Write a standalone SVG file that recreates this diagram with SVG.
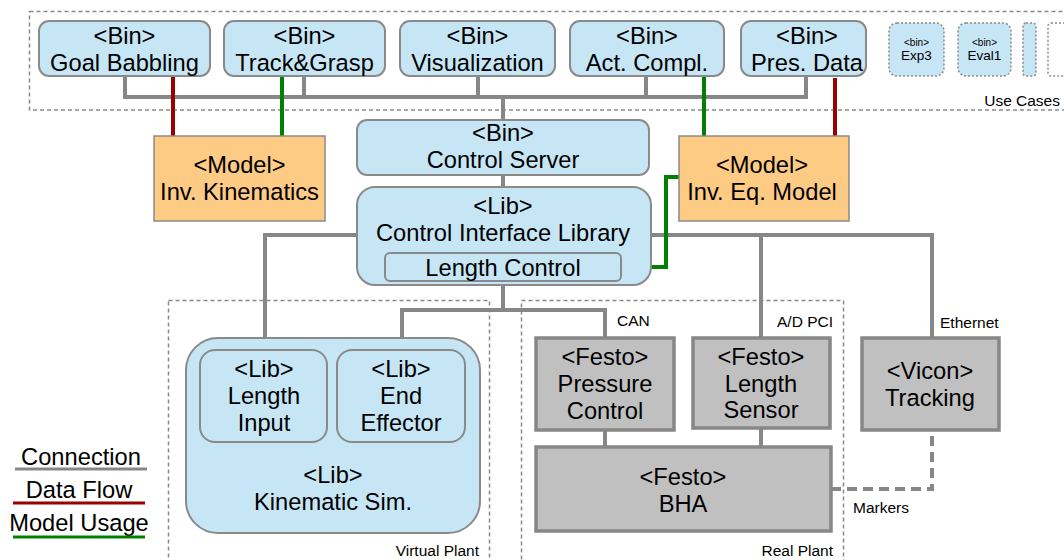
<svg xmlns="http://www.w3.org/2000/svg" width="1064" height="560" viewBox="0 0 1064 560">
<style>
text{font-family:"Liberation Sans",Arial,sans-serif;fill:#000;text-anchor:middle}
.t{font-size:23.7px}
.s{font-size:15.5px}
.xs{font-size:10px}
.sm{font-size:13.5px}
.blue{fill:#c7e6f5;stroke:#8a8a8a;stroke-width:2}
.org{fill:#fecb85;stroke:#8a8a8a;stroke-width:1.5}
.gray{fill:#c0c0c0;stroke:#878787;stroke-width:3.5}
.dash{fill:none;stroke:#8a8a8a;stroke-width:1.5;stroke-dasharray:4,3}
.dblue{fill:#c7e6f5;stroke:#8a8a8a;stroke-width:1.5;stroke-dasharray:2,2}
.c{fill:none;stroke:#878787;stroke-width:4}
.r{fill:none;stroke:#990000;stroke-width:4}
.g{fill:none;stroke:#008000;stroke-width:4}
.cd{fill:none;stroke:#878787;stroke-width:4;stroke-dasharray:10,6}
</style>
<rect width="1064" height="560" fill="#fff"/>
<g id="containers">
<rect class="dash" x="29.5" y="11.5" width="1050" height="98.5"/>
<text class="s" x="1060" y="106" style="text-anchor:end">Use Cases</text>
<rect class="dash" x="168.5" y="300.5" width="321" height="280"/>
<text class="s" x="479" y="556" style="text-anchor:end">Virtual Plant</text>
<rect class="dash" x="521.5" y="300.5" width="322" height="280"/>
<text class="s" x="833" y="556" style="text-anchor:end">Real Plant</text>
</g>
<g id="connectors">
<path class="c" d="M125 76V97H806V76M304 76V97M478 76V97M646 76V97M503 97V120"/>
<path class="c" d="M503 175V187"/>
<path class="c" d="M357 235H265V352"/>
<path class="c" d="M651 235H932V338M761 235V338"/>
<path class="c" d="M402 351V310H605V338M503 285V310"/>
<path class="c" d="M605 430V447M761 428V447"/>
<path class="cd" d="M831 489H932V430"/>
<path class="r" d="M173 77V136M835 78V136"/>
<path class="g" d="M282 77V136M704 76V136"/>
<path class="g" d="M621 267H666V177H679"/>
</g>
<g id="goal-babbling"><rect class="blue" x="39" y="21" width="171" height="55" rx="10"/><text class="t" x="124.5" y="44">&lt;Bin&gt;</text><text class="t" x="124.5" y="71">Goal Babbling</text></g>
<g id="track-grasp"><rect class="blue" x="224" y="21" width="161" height="55" rx="10"/><text class="t" x="304.5" y="44">&lt;Bin&gt;</text><text class="t" x="304.5" y="71">Track&amp;Grasp</text></g>
<g id="visualization"><rect class="blue" x="400" y="21" width="155" height="55" rx="10"/><text class="t" x="477.5" y="44">&lt;Bin&gt;</text><text class="t" x="477.5" y="71">Visualization</text></g>
<g id="act-compl"><rect class="blue" x="570" y="21" width="154" height="55" rx="10"/><text class="t" x="647" y="44">&lt;Bin&gt;</text><text class="t" x="647" y="71">Act. Compl.</text></g>
<g id="pres-data"><rect class="blue" x="741" y="21" width="125" height="55" rx="10"/><text class="t" x="807" y="44">&lt;Bin&gt;</text><text class="t" x="807" y="71">Pres. Data</text></g>
<g id="exp3"><rect class="dblue" x="889" y="23" width="55" height="53" rx="8"/><text class="xs" x="916.5" y="46">&lt;bin&gt;</text><text class="sm" x="916.5" y="60">Exp3</text></g>
<g id="eval1"><rect class="dblue" x="958" y="23" width="53" height="53" rx="8"/><text class="xs" x="984.5" y="46">&lt;bin&gt;</text><text class="sm" x="984.5" y="60">Eval1</text></g>
<g id="more1"><rect class="dblue" x="1023" y="23" width="13" height="53" rx="3"/></g>
<g id="more2"><rect class="dash" x="1048" y="23" width="20" height="53" rx="3" style="stroke-dasharray:2,2"/></g>
<g id="inv-kinematics"><rect class="org" x="154" y="136" width="171" height="85"/><text class="t" x="239.5" y="173">&lt;Model&gt;</text><text class="t" x="239.5" y="200">Inv. Kinematics</text></g>
<g id="inv-eq-model"><rect class="org" x="679" y="136" width="170" height="85"/><text class="t" x="762" y="173">&lt;Model&gt;</text><text class="t" x="762" y="200">Inv. Eq. Model</text></g>
<g id="control-server"><rect class="blue" x="357" y="120" width="292" height="55" rx="10"/><text class="t" x="503" y="141">&lt;Bin&gt;</text><text class="t" x="503" y="168">Control Server</text></g>
<g id="control-interface-library"><rect class="blue" x="357" y="187" width="294" height="98" rx="18"/><text class="t" x="503" y="214">&lt;Lib&gt;</text><text class="t" x="503" y="241">Control Interface Library</text></g>
<g id="length-control"><rect class="blue" x="385" y="253" width="236" height="28" rx="5"/><text class="t" x="503" y="276">Length Control</text></g>
<g id="kinematic-sim"><rect class="blue" x="186" y="338" width="294" height="195" rx="32"/><text class="t" x="333" y="483">&lt;Lib&gt;</text><text class="t" x="333" y="510">Kinematic Sim.</text></g>
<g id="length-input"><rect class="blue" x="200" y="350" width="127" height="92" rx="15"/><text class="t" x="264" y="377">&lt;Lib&gt;</text><text class="t" x="264" y="404">Length</text><text class="t" x="264" y="431">Input</text></g>
<g id="end-effector"><rect class="blue" x="337" y="350" width="128" height="92" rx="15"/><text class="t" x="401" y="377">&lt;Lib&gt;</text><text class="t" x="401" y="404">End</text><text class="t" x="401" y="431">Effector</text></g>
<g id="pressure-control"><rect class="gray" x="536" y="338" width="138" height="92"/><text class="t" x="605" y="365">&lt;Festo&gt;</text><text class="t" x="605" y="392">Pressure</text><text class="t" x="605" y="419">Control</text></g>
<g id="length-sensor"><rect class="gray" x="693" y="338" width="137" height="90"/><text class="t" x="761" y="365">&lt;Festo&gt;</text><text class="t" x="761" y="392">Length</text><text class="t" x="761" y="418">Sensor</text></g>
<g id="bha"><rect class="gray" x="536" y="447" width="295" height="84"/><text class="t" x="683" y="485">&lt;Festo&gt;</text><text class="t" x="683" y="512">BHA</text></g>
<g id="vicon"><rect class="gray" x="862" y="338" width="137" height="92"/><text class="t" x="930" y="379">&lt;Vicon&gt;</text><text class="t" x="930" y="406">Tracking</text></g>
<g id="labels">
<text class="s" x="617" y="326" style="text-anchor:start">CAN</text>
<text class="s" x="833" y="327" style="text-anchor:end">A/D PCI</text>
<text class="s" x="940" y="328" style="text-anchor:start">Ethernet</text>
<text class="s" x="853" y="513" style="text-anchor:start">Markers</text>
</g>
<g id="legend">
<text class="t" x="81" y="465">Connection</text>
<line x1="15" y1="469" x2="147" y2="469" stroke="#878787" stroke-width="3"/>
<text class="t" x="79" y="498">Data Flow</text>
<line x1="13" y1="503" x2="145" y2="503" stroke="#990000" stroke-width="3"/>
<text class="t" x="79" y="531">Model Usage</text>
<line x1="13" y1="537" x2="145" y2="537" stroke="#008000" stroke-width="3"/>
</g>
</svg>
